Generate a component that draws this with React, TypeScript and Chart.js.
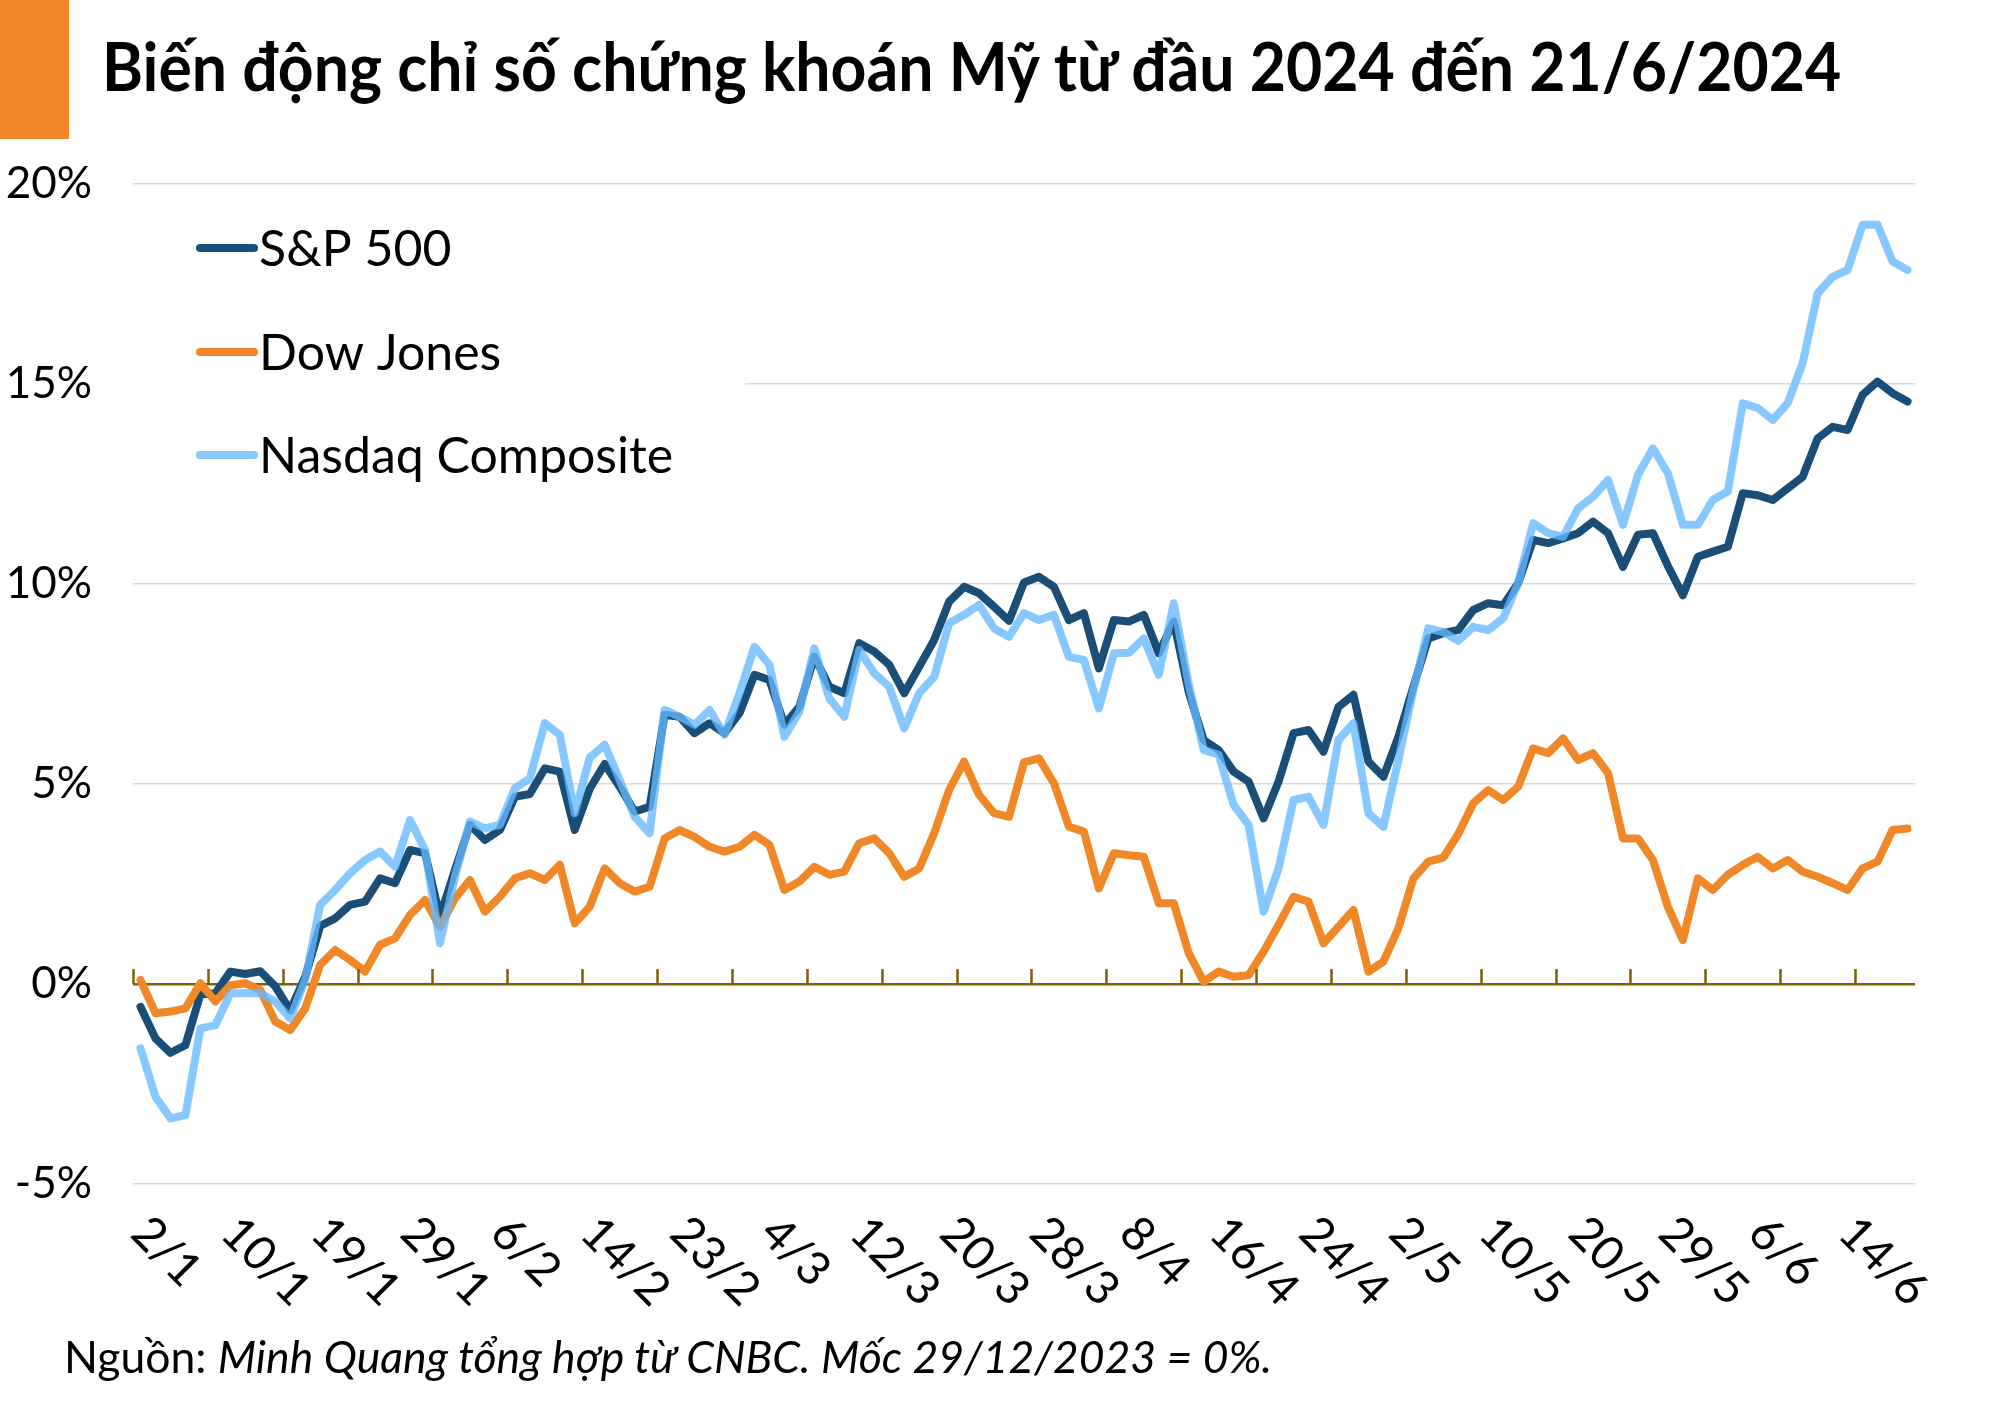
import React, { useEffect, useRef } from "react";
import { Chart, registerables } from "chart.js";

Chart.register(...registerables);

const TITLE = "Biến động chỉ số chứng khoán Mỹ từ đầu 2024 đến 21/6/2024";
const SOURCE_LABEL = "Nguồn: ";
const SOURCE_TEXT = "Minh Quang tổng hợp từ CNBC. Mốc 29/12/2023 = 0%.";

const DATES: string[] = [
  "2/1", "3/1", "4/1", "5/1", "8/1", "9/1", "10/1", "11/1", "12/1", "16/1",
  "17/1", "18/1", "19/1", "22/1", "23/1", "24/1", "25/1", "26/1", "29/1", "30/1",
  "31/1", "1/2", "2/2", "5/2", "6/2", "7/2", "8/2", "9/2", "12/2", "13/2",
  "14/2", "15/2", "16/2", "20/2", "21/2", "22/2", "23/2", "26/2", "27/2", "28/2",
  "29/2", "1/3", "4/3", "5/3", "6/3", "7/3", "8/3", "11/3", "12/3", "13/3",
  "14/3", "15/3", "18/3", "19/3", "20/3", "21/3", "22/3", "25/3", "26/3", "27/3",
  "28/3", "1/4", "2/4", "3/4", "4/4", "5/4", "8/4", "9/4", "10/4", "11/4",
  "12/4", "15/4", "16/4", "17/4", "18/4", "19/4", "22/4", "23/4", "24/4", "25/4",
  "26/4", "29/4", "30/4", "1/5", "2/5", "3/5", "6/5", "7/5", "8/5", "9/5",
  "10/5", "13/5", "14/5", "15/5", "16/5", "17/5", "20/5", "21/5", "22/5", "23/5",
  "24/5", "28/5", "29/5", "30/5", "31/5", "3/6", "4/6", "5/6", "6/6", "7/6",
  "10/6", "11/6", "12/6", "13/6", "14/6", "17/6", "18/6", "20/6", "21/6",
];

const SERIES_NAMES = ["S&P 500", "Dow Jones", "Nasdaq Composite"];

const SP500: number[] = [
  -0.57, -1.36, -1.72, -1.53, -0.26, -0.23, 0.31, 0.25, 0.32, -0.06,
  -0.66, 0.18, 1.45, 1.64, 1.98, 2.06, 2.64, 2.52, 3.35, 3.27,
  1.68, 2.85, 3.98, 3.6, 3.85, 4.68, 4.75, 5.39, 5.31, 3.85,
  4.88, 5.5, 4.93, 4.31, 4.43, 6.73, 6.68, 6.27, 6.52, 6.27,
  6.77, 7.73, 7.6, 6.48, 6.93, 8.18, 7.43, 7.27, 8.52, 8.31,
  7.98, 7.27, 7.93, 8.6, 9.56, 9.93, 9.77, 9.43, 9.08, 10.04,
  10.18, 9.93, 9.1, 9.27, 7.89, 9.1, 9.06, 9.23, 8.27, 9.06,
  7.3, 6.1, 5.85, 5.31, 5.06, 4.14, 5.06, 6.27, 6.35, 5.81,
  6.93, 7.23, 5.56, 5.18, 6.18, 7.43, 8.64, 8.77, 8.85, 9.35,
  9.52, 9.47, 10.02, 11.1, 11.02, 11.14, 11.27, 11.56, 11.27, 10.43,
  11.23, 11.27, 10.45, 9.72, 10.68, 10.81, 10.93, 12.27, 12.22, 12.1,
  12.39, 12.68, 13.64, 13.93, 13.85, 14.73, 15.06, 14.77, 14.56,
];

const DOW: number[] = [
  0.1, -0.73, -0.69, -0.61, 0.02, -0.44, -0.03, 0.02, -0.15, -0.94,
  -1.15, -0.61, 0.48, 0.85, 0.6, 0.31, 0.98, 1.14, 1.73, 2.1,
  1.43, 2.14, 2.6, 1.81, 2.18, 2.64, 2.77, 2.6, 2.98, 1.52,
  1.93, 2.89, 2.52, 2.31, 2.43, 3.64, 3.85, 3.68, 3.43, 3.31,
  3.43, 3.73, 3.48, 2.35, 2.56, 2.93, 2.73, 2.81, 3.52, 3.64,
  3.27, 2.68, 2.89, 3.77, 4.85, 5.56, 4.73, 4.27, 4.18, 5.54,
  5.64, 5.02, 3.93, 3.81, 2.39, 3.27, 3.22, 3.18, 2.02, 2.02,
  0.77, 0.06, 0.31, 0.18, 0.22, 0.81, 1.48, 2.18, 2.06, 1.02,
  1.43, 1.85, 0.31, 0.56, 1.39, 2.64, 3.06, 3.16, 3.75, 4.52,
  4.85, 4.6, 4.93, 5.89, 5.77, 6.14, 5.6, 5.77, 5.27, 3.64,
  3.64, 3.1, 1.93, 1.1, 2.64, 2.35, 2.73, 2.98, 3.18, 2.89,
  3.1, 2.81, 2.68, 2.52, 2.35, 2.89, 3.06, 3.85, 3.89,
];

const NASDAQ: number[] = [
  -1.61, -2.82, -3.36, -3.28, -1.11, -1.03, -0.23, -0.23, -0.23, -0.44,
  -0.86, 0.1, 1.98, 2.35, 2.77, 3.1, 3.31, 2.93, 4.1, 3.35,
  1.02, 2.68, 4.06, 3.89, 3.98, 4.89, 5.14, 6.52, 6.23, 4.27,
  5.66, 5.98, 5.1, 4.18, 3.77, 6.85, 6.68, 6.48, 6.85, 6.23,
  7.27, 8.43, 7.98, 6.18, 6.81, 8.39, 7.14, 6.68, 8.35, 7.77,
  7.43, 6.39, 7.27, 7.68, 9.02, 9.23, 9.48, 8.89, 8.68, 9.27,
  9.1, 9.23, 8.18, 8.1, 6.89, 8.27, 8.28, 8.64, 7.73, 9.52,
  7.5, 5.85, 5.73, 4.48, 3.98, 1.81, 2.89, 4.6, 4.68, 3.98,
  6.1, 6.52, 4.27, 3.93, 5.6, 7.35, 8.89, 8.8, 8.58, 8.93,
  8.85, 9.14, 10.02, 11.52, 11.27, 11.18, 11.89, 12.18, 12.6, 11.48,
  12.73, 13.39, 12.77, 11.48, 11.48, 12.1, 12.31, 14.52, 14.4, 14.1,
  14.52, 15.52, 17.27, 17.68, 17.85, 18.98, 18.98, 18.06, 17.85,
];

const Y_MIN = -5;
const Y_MAX = 20;
const Y_STEP = 5;
const LABEL_EVERY = 6;
const TICKMARK_EVERY = 5;

const COLOR_SP = "#1B4E76";
const COLOR_DOW = "#F08828";
const COLOR_NAS = "rgba(100,185,255,0.78)";
const COLOR_AXIS = "#7F6000";
const COLOR_GRID = "#D9D9D9";
const COLOR_BLOCK = "#F28727";
const FONT = "Lato, 'Noto Sans', sans-serif";

const overlayPlugin = {
  id: "overlay",
  afterDraw(chart: any) {
    const { ctx, chartArea, scales } = chart;
    const xs = scales.x;
    const ys = scales.y;
    const y0 = ys.getPixelForValue(0);
    const w = xs.getPixelForValue(1) - xs.getPixelForValue(0);
    ctx.save();

    // tick marks on the 0% axis
    ctx.strokeStyle = COLOR_AXIS;
    ctx.lineWidth = 2.5;
    for (let i = 0; i < DATES.length; i += TICKMARK_EVERY) {
      const px = Math.round(xs.getPixelForValue(i) - w / 2) + 0.5;
      ctx.beginPath();
      ctx.moveTo(px, y0);
      ctx.lineTo(px, y0 - 15);
      ctx.stroke();
    }

    // rotated category labels
    ctx.fillStyle = "#000";
    ctx.font = `47px ${FONT}`;
    ctx.textAlign = "left";
    ctx.textBaseline = "middle";
    for (let i = 0; i < DATES.length; i += LABEL_EVERY) {
      const px = xs.getPixelForValue(i);
      ctx.save();
      ctx.translate(px - 1, chartArea.bottom + 41);
      ctx.rotate(Math.PI / 4);
      ctx.fillText(DATES[i], 0, 0);
      ctx.restore();
    }

    // legend
    ctx.fillStyle = "#fff";
    ctx.fillRect(chartArea.left + 1, 200, 744 - chartArea.left, 310);
    const colors = [COLOR_SP, COLOR_DOW, COLOR_NAS];
    const ys0 = [248, 352, 455];
    ctx.font = `50px ${FONT}`;
    ctx.textBaseline = "middle";
    SERIES_NAMES.forEach((name, k) => {
      ctx.strokeStyle = colors[k];
      ctx.lineWidth = 8;
      ctx.lineCap = "round";
      ctx.beginPath();
      ctx.moveTo(200, ys0[k]);
      ctx.lineTo(254, ys0[k]);
      ctx.stroke();
      ctx.fillStyle = "#000";
      ctx.fillText(name, 259, ys0[k] + 2);
    });
    ctx.restore();
  },
};

function LineChart() {
  const ref = useRef<HTMLCanvasElement | null>(null);
  useEffect(() => {
    if (!ref.current) return;
    const lineStyle = {
      borderWidth: 8,
      pointRadius: 0,
      pointHoverRadius: 0,
      tension: 0,
      borderJoinStyle: "round" as const,
      borderCapStyle: "round" as const,
      fill: false,
    };
    const chart = new Chart(ref.current, {
      type: "line",
      data: {
        labels: DATES,
        datasets: [
          { label: SERIES_NAMES[0], data: SP500, borderColor: COLOR_SP, backgroundColor: COLOR_SP, order: 2, ...lineStyle },
          { label: SERIES_NAMES[1], data: DOW, borderColor: COLOR_DOW, backgroundColor: COLOR_DOW, order: 1, ...lineStyle },
          { label: SERIES_NAMES[2], data: NASDAQ, borderColor: COLOR_NAS, backgroundColor: COLOR_NAS, order: 0, ...lineStyle },
        ],
      },
      options: {
        animation: false,
        responsive: false,
        devicePixelRatio: 1,
        layout: { padding: { left: 0, top: 184, right: 85, bottom: 217 } },
        plugins: {
          legend: { display: false },
          tooltip: { enabled: false },
          title: { display: false },
        },
        scales: {
          x: {
            type: "category",
            offset: true,
            ticks: { display: false },
            grid: { display: false, drawTicks: false },
            border: { display: false },
            afterFit: (s: any) => { s.height = 0; },
          },
          y: {
            min: Y_MIN,
            max: Y_MAX,
            ticks: {
              stepSize: Y_STEP,
              padding: 41,
              color: "#000",
              font: { family: FONT, size: 44 },
              callback: (v: any) => `${v}%`,
            },
            grid: {
              drawTicks: false,
              color: (c: any) => (c.tick && c.tick.value === 0 ? COLOR_AXIS : COLOR_GRID),
              lineWidth: (c: any) => (c.tick && c.tick.value === 0 ? 2.5 : 1.5),
            },
            border: { display: false },
            afterFit: (s: any) => { s.width = 133; },
          },
        },
      },
      plugins: [overlayPlugin],
    });
    return () => chart.destroy();
  }, []);
  return (
    <canvas
      ref={ref}
      width={2000}
      height={1401}
      style={{ position: "absolute", left: 0, top: 0, width: 2000, height: 1401 }}
    />
  );
}

export default function App() {
  return (
    <div style={{ position: "absolute", left: 0, top: 0, width: 2000, height: 1401, background: "#fff", overflow: "hidden", fontFamily: FONT }}>
      <LineChart />
      <div style={{ position: "absolute", left: 0, top: 0, width: 69, height: 139, background: COLOR_BLOCK }} />
      <div
        style={{
          position: "absolute",
          left: 102,
          top: 36,
          fontSize: 62.5,
          lineHeight: "62.5px",
          fontWeight: 700,
          color: "#000",
          whiteSpace: "nowrap",
          transform: "scaleY(1.08)",
          transformOrigin: "0px 56px",
        }}
      >
        {TITLE}
      </div>
      <div
        style={{
          position: "absolute",
          left: 64,
          top: 1334,
          fontSize: 44.5,
          lineHeight: "44.5px",
          color: "#000",
          whiteSpace: "nowrap",
        }}
      >
        {SOURCE_LABEL}
        <i>{SOURCE_TEXT}</i>
      </div>
    </div>
  );
}
